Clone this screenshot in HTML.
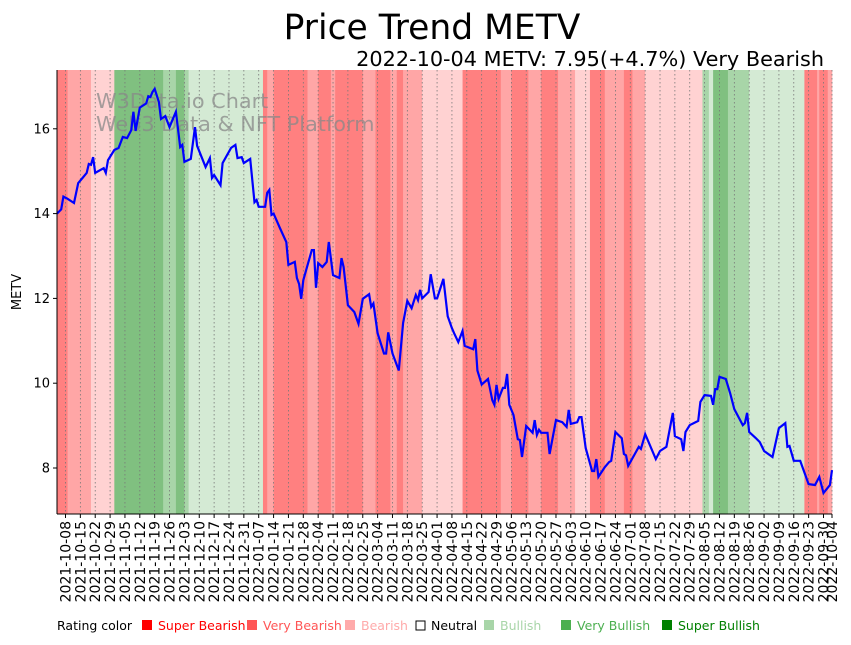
<!DOCTYPE html>
<html><head><meta charset="utf-8"><style>
body{margin:0;background:#fff;font-family:"DejaVu Sans","Liberation Sans",sans-serif}
svg text{font-family:"DejaVu Sans","Liberation Sans",sans-serif}
</style></head><body>
<svg id="c" width="851" height="641" xmlns="http://www.w3.org/2000/svg">
<text x="432" y="39" font-size="34.5" text-anchor="middle">Price Trend METV</text>
<text x="824" y="66" font-size="20.8" text-anchor="end">2022-10-04 METV: 7.95(+4.7%) Very Bearish</text>
<g id="bands"></g>
<g id="grid"></g>
<g fill="#888" fill-opacity="0.75" font-size="20.8">
<text x="96" y="108">W3Data.io Chart</text><text x="96" y="131">Web3 Data &amp; NFT Platform</text></g>
<path id="line" fill="none" stroke="#0000ff" stroke-width="2.2"/>
<line x1="57" y1="70" x2="57" y2="514" stroke="#000"/>
<line x1="57" y1="514" x2="832" y2="514" stroke="#000"/>
<g id="yt"></g>
<g id="xt"></g>
<text transform="translate(21,292) rotate(-90)" font-size="13" text-anchor="middle">METV</text>
<g id="legend" font-size="12.5"></g>
</svg>
<script>
const days=[0,2,3,5,8,10,12,14,15,16,17,18,22,23,24,27,29,31,33,35,36,37,39,42,43,44,45,46,48,49,51,53,56,58,59,60,63,65,66,70,72,73,74,77,78,82,84,85,87,88,91,93,94,95,98,99,100,101,102,105,108,109,112,113,114,115,116,120,121,122,123,125,127,128,130,133,134,135,137,140,142,144,147,148,149,151,154,155,156,158,161,163,165,167,169,170,171,172,175,176,178,179,182,184,186,187,189,191,192,196,197,198,200,203,205,206,207,208,210,211,212,213,215,217,218,219,221,224,225,226,227,228,231,232,235,238,240,241,242,245,246,247,249,252,253,254,255,258,260,261,263,266,267,268,269,274,275,277,282,284,287,290,291,294,295,296,298,302,303,305,308,309,310,311,312,315,317,319,323,324,325,326,329,331,333,337,340,343,344,345,347,350,354,357,359,361,364,365];
const prices=[14.0,14.1,14.4,14.35,14.25,14.72,14.84,14.96,15.17,15.15,15.33,14.96,15.07,14.96,15.26,15.5,15.55,15.81,15.78,15.97,16.4,15.95,16.5,16.6,16.77,16.75,16.87,16.94,16.63,16.23,16.3,16.04,16.4,15.57,15.62,15.22,15.29,16.04,15.6,15.1,15.31,14.84,14.91,14.67,15.19,15.55,15.62,15.31,15.33,15.19,15.29,14.27,14.32,14.16,14.16,14.49,14.56,13.97,14.0,13.66,13.33,12.79,12.86,12.48,12.34,11.99,12.43,13.14,13.14,12.25,12.83,12.74,12.86,13.33,12.55,12.48,12.95,12.74,11.84,11.68,11.4,11.99,12.1,11.8,11.88,11.18,10.7,10.7,11.2,10.7,10.3,11.42,11.94,11.77,12.08,11.96,12.2,12.0,12.15,12.57,12.0,12.0,12.46,11.58,11.3,11.18,10.97,11.23,10.88,10.8,11.04,10.3,9.97,10.1,9.6,9.49,9.96,9.63,9.89,9.89,10.22,9.49,9.25,8.68,8.66,8.26,8.99,8.83,9.13,8.78,8.9,8.83,8.83,8.33,9.13,9.08,8.97,9.37,9.04,9.08,9.2,9.2,8.47,7.93,7.93,8.21,7.79,8.02,8.14,8.17,8.85,8.7,8.33,8.3,8.05,8.5,8.45,8.8,8.21,8.4,8.5,9.3,8.75,8.68,8.4,8.85,9.01,9.11,9.56,9.72,9.7,9.49,9.86,9.86,10.15,10.1,9.77,9.39,9.01,9.06,9.3,8.85,8.71,8.61,8.4,8.26,8.94,9.06,8.5,8.52,8.17,8.17,7.62,7.6,7.79,7.41,7.6,7.95];
const bandStarts=[0,5,16,27,50,56,60,62,97,99,102,118,123,129,131,144,150,157,160,163,172,191,209,214,222,228,236,244,251,258,267,271,277,304,307,309,316,326,352,358,359,363];
const bandRatings=["SB","VB","B","SUB","VBU","SUB","VBU","BU","SB","VB","SB","VB","SB","VB","SB","VB","SB","VB","SB","VB","B","SB","VB","SB","VB","SB","VB","B","SB","VB","SB","VB","B","VBU","BU","SUB","VBU","BU","SB","VB","SB","VB"];
const yTicks=[8,10,12,14,16];
const startDate=new Date(Date.UTC(2021,9,4));
const totalDays=365;
const NS="http://www.w3.org/2000/svg";
const X0=57,X1=832,Y0=70,Y1=514;
const xs=d=>X0+(X1-X0)*d/totalDays;
const ys=p=>468-(p-8)*42.4;
const bandColor={SB:"#ff8080",VB:"#ffa6a6",B:"#ffd2d2",BU:"#d4ead4",VBU:"#a8d5a8",SUB:"#80c080"};
function mk(t,a){const e=document.createElementNS(NS,t);for(const k in a)e.setAttribute(k,a[k]);return e;}
const bg=document.getElementById('bands');
bandStarts.forEach((s,i)=>{const e=(i+1<bandStarts.length?bandStarts[i+1]:totalDays);
 const r=mk('rect',{x:xs(s),y:Y0,width:xs(e)-xs(s)+0.3,height:Y1-Y0,fill:bandColor[bandRatings[i]]});
 
 
 bg.appendChild(r);});
const grid=document.getElementById('grid'),xt=document.getElementById('xt');
const tickDays=[];for(let d=4;d<=totalDays;d+=7)tickDays.push(d);tickDays.push(365);
tickDays.forEach(d=>{const x=xs(d);
 const g=mk('line',{x1:x,y1:Y0,x2:x,y2:Y1,stroke:'#777','stroke-width':0.8,'stroke-dasharray':'1.5,2.5'});
 
 
 grid.appendChild(g);
 xt.appendChild(mk('line',{x1:x,y1:Y1,x2:x,y2:Y1+4,stroke:'#000'}));
 const dt=new Date(startDate.getTime()+d*86400000);
 const lab=dt.toISOString().slice(0,10);
 const t=mk('text',{transform:`translate(${x+5},${Y1+7}) rotate(-90)`,'font-size':14,'text-anchor':'end'});
 
 
 t.textContent=lab;xt.appendChild(t);});
const yt=document.getElementById('yt');
yTicks.forEach(v=>{const y=ys(v);
 yt.appendChild(mk('line',{x1:X0-4,y1:y,x2:X0,y2:y,stroke:'#000'}));
 const t=mk('text',{x:X0-7,y:y+4.5,'font-size':13,'text-anchor':'end'});
 
 
 t.textContent=v;yt.appendChild(t);});
document.getElementById('line').setAttribute('d',days.map((d,i)=>(i?'L':'M')+xs(d).toFixed(1)+','+ys(prices[i]).toFixed(1)).join(''));
const lg=document.getElementById('legend');
const items=[["Super Bearish","#ff0000",142],["Very Bearish","#ff5555",247],["Bearish","#ffaaaa",345],["Neutral","#000",415],["Bullish","#a8d5a8",484],["Very Bullish","#4caf50",561],["Super Bullish","#008000",662]];
const t0=mk('text',{x:57,y:630});t0.textContent="Rating color";lg.appendChild(t0);
items.forEach(([n,c,x])=>{
 const sq=n==="Neutral"?mk('rect',{x:x+1,y:621,width:9,height:9,fill:'#fff',stroke:'#000'}):mk('rect',{x:x,y:620,width:10,height:10,fill:c});
 
 
 lg.appendChild(sq);
 const t=mk('text',{x:x+16,y:630,fill:c});
 
 
 t.textContent=n;lg.appendChild(t);});
</script>
</body></html>
